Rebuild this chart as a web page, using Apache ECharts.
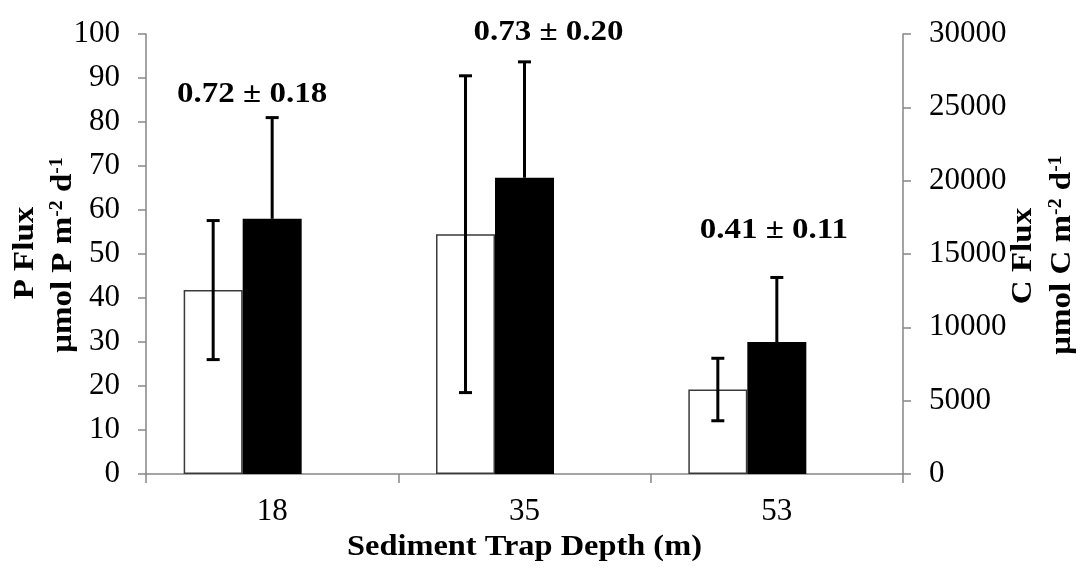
<!DOCTYPE html>
<html><head><meta charset="utf-8">
<script src="https://cdn.jsdelivr.net/npm/echarts@6/dist/echarts.min.js"></script>
<style>html,body{margin:0;padding:0;background:#fff}#c{width:1080px;height:573px}</style>
</head><body><div id="c"></div>
<script>
// ---- data ----
const categories = ['18', '35', '53'];
const pFlux = [41.8, 54.5, 19.2];
const pFluxErr = [15.8, 36.0, 7.1];
const cFlux = [17400, 20200, 9000];
const cFluxErr = [6900, 7900, 4400];
const ratioLabels = ['0.72 ± 0.18', '0.73 ± 0.20', '0.41 ± 0.11'];
const ratioLabelY = [86.2, 100.4, 55.4];   // anchor height on P axis
const pAxisRange = [0, 100, 10];
const cAxisRange = [0, 30000, 5000];

// ---- layout / style ----
const FONT = "'Liberation Serif', 'Times New Roman', serif";
const AXIS_COLOR = '#868686';
const BAR_W = 59;
const CAP_W = 13;
const STRETCH = 1.1;
const ratioLabelDX = [-20, 24, -3];

function errRender(offsetBars, both) {
  return function (params, api) {
    const x = api.value(0), v = api.value(1), e = api.value(2);
    const base = api.coord([x, v]);
    const top = api.coord([x, v + e]);
    const bot = both ? api.coord([x, v - e]) : base;
    const cx = base[0] + offsetBars * BAR_W;
    const hw = CAP_W / 2;
    const style = { stroke: '#000', lineWidth: 3 };
    const children = [
      { type: 'line', shape: { x1: cx, y1: top[1], x2: cx, y2: bot[1] }, style },
      { type: 'line', shape: { x1: cx - hw, y1: top[1], x2: cx + hw, y2: top[1] }, style }
    ];
    if (both) children.push({ type: 'line', shape: { x1: cx - hw, y1: bot[1], x2: cx + hw, y2: bot[1] }, style });
    return { type: 'group', children };
  };
}

const chart = echarts.init(document.getElementById('c'), null, { renderer: 'canvas' });
const supRich = { sup: { fontSize: 18, fontWeight: 'bold', fontFamily: FONT, verticalAlign: 'top', fill: '#000' } };
const titleStyle = { fontSize: 30, fontWeight: 'bold', fontFamily: FONT, fill: '#000', align: 'center', verticalAlign: 'middle' };
const tickLabel = { color: '#000', fontSize: 31, fontFamily: FONT };

chart.setOption({
  animation: false,
  backgroundColor: '#fff',
  grid: { left: 146, right: 177, top: 34, bottom: 99 },
  xAxis: {
    type: 'category', data: categories,
    axisLine: { lineStyle: { color: AXIS_COLOR, width: 1.5 } },
    axisTick: { show: true, length: 9, lineStyle: { color: AXIS_COLOR, width: 1.5 } },
    axisLabel: Object.assign({ margin: 22 }, tickLabel)
  },
  yAxis: [
    {
      type: 'value', min: pAxisRange[0], max: pAxisRange[1], interval: pAxisRange[2],
      axisLine: { show: true, lineStyle: { color: AXIS_COLOR, width: 1.5 } },
      axisTick: { show: true, length: 8, lineStyle: { color: AXIS_COLOR, width: 1.5 } },
      axisLabel: Object.assign({ margin: 26 }, tickLabel),
      splitLine: { show: false }
    },
    {
      type: 'value', min: cAxisRange[0], max: cAxisRange[1], interval: cAxisRange[2], position: 'right',
      axisLine: { show: true, lineStyle: { color: AXIS_COLOR, width: 1.5 } },
      axisTick: { show: true, length: 8, lineStyle: { color: AXIS_COLOR, width: 1.5 } },
      axisLabel: Object.assign({ margin: 26, formatter: v => String(v) }, tickLabel),
      splitLine: { show: false }
    }
  ],
  series: [
    {
      type: 'bar', name: 'P Flux', yAxisIndex: 0, data: pFlux, barWidth: BAR_W, barGap: '0%',
      itemStyle: { color: '#fff', borderColor: '#3a3a3a', borderWidth: 1.5 }, z: 2
    },
    {
      type: 'bar', name: 'C Flux', yAxisIndex: 1, data: cFlux, barWidth: BAR_W, barGap: '0%',
      itemStyle: { color: '#000', borderColor: '#000', borderWidth: 0 }, z: 2
    },
    { type: 'bar', name: 'spacer', yAxisIndex: 0, data: [], barWidth: BAR_W, barGap: '0%' },
    {
      type: 'custom', yAxisIndex: 0, z: 5,
      data: categories.map((c, i) => [i, pFlux[i], pFluxErr[i]]),
      renderItem: errRender(-1, true)
    },
    {
      type: 'custom', yAxisIndex: 1, z: 5,
      data: categories.map((c, i) => [i, cFlux[i], cFluxErr[i]]),
      renderItem: errRender(0, false)
    },
    {
      type: 'custom', yAxisIndex: 0, z: 6, clip: false,
      data: categories.map((c, i) => [i, ratioLabelY[i]]),
      renderItem: function (params, api) {
        const i = params.dataIndex;
        const p = api.coord([api.value(0), api.value(1)]);
        return {
          type: 'text', x: p[0] + ratioLabelDX[i], y: p[1], scaleX: STRETCH,
          style: { text: ratioLabels[i], fontSize: 30, fontWeight: 'bold', fontFamily: FONT, fill: '#000', align: 'center', verticalAlign: 'middle' }
        };
      }
    }
  ],
  graphic: [
    { type: 'text', x: 524.5, y: 547, scaleX: 1.08, style: Object.assign({ text: 'Sediment Trap Depth (m)' }, titleStyle) },
    { type: 'text', x: 25, y: 253, rotation: Math.PI / 2, scaleX: STRETCH, style: Object.assign({ text: 'P Flux' }, titleStyle) },
    { type: 'text', x: 63, y: 255, rotation: Math.PI / 2, scaleX: STRETCH, style: Object.assign({ text: 'μmol P m{sup|-2} d{sup|-1}', rich: supRich }, titleStyle) },
    { type: 'text', x: 1023, y: 256, rotation: Math.PI / 2, scaleX: STRETCH, style: Object.assign({ text: 'C Flux' }, titleStyle) },
    { type: 'text', x: 1062, y: 255, rotation: Math.PI / 2, scaleX: STRETCH, style: Object.assign({ text: 'μmol C m{sup|-2} d{sup|-1}', rich: supRich }, titleStyle) }
  ]
});
</script>
</body></html>
